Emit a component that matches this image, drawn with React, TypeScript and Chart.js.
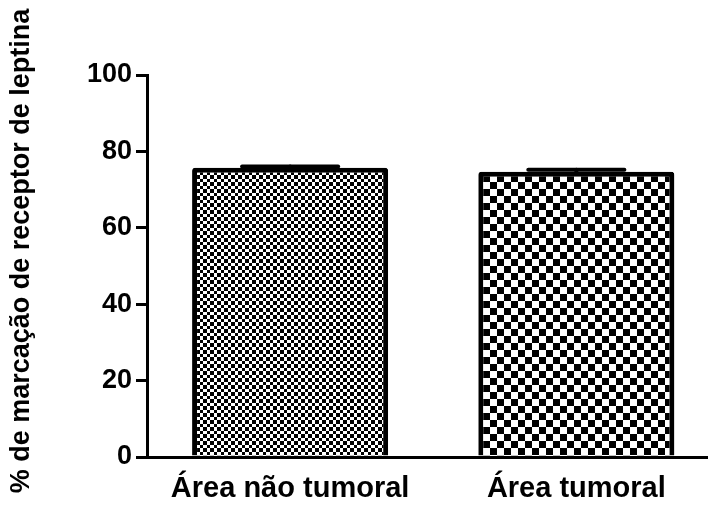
import { useEffect, useRef } from "react";
import { Chart, registerables } from "chart.js";

Chart.register(...registerables);

const categories = ["Área não tumoral", "Área tumoral"];
const means = [75.7, 74.7];
const sems = [0.9, 1.0];
const yTickValues = [0, 20, 40, 60, 80, 100];
const yTitle = "% de marcação de receptor de leptina";

const FONT = "'Liberation Sans', Arial, Helvetica, sans-serif";

function makeChecker(ctx: CanvasRenderingContext2D, cells: number[]) {
  const period = cells.reduce((a, b) => a + b, 0);
  const c = document.createElement("canvas");
  c.width = period;
  c.height = period;
  const g = c.getContext("2d")!;
  g.fillStyle = "#fff";
  g.fillRect(0, 0, period, period);
  g.fillStyle = "#000";
  let y = 0;
  cells.forEach((h, i) => {
    let x = 0;
    cells.forEach((w, j) => {
      if ((i + j) % 2 === 0) g.fillRect(x, y, w, h);
      x += w;
    });
    y += h;
  });
  return ctx.createPattern(c, "repeat")!;
}

const errorBars = {
  id: "errorBars",
  afterDatasetsDraw(chart: any) {
    const ctx = chart.ctx;
    const meta = chart.getDatasetMeta(0);
    const y = chart.scales.y;
    ctx.save();
    ctx.strokeStyle = "#000";
    ctx.lineWidth = 4;
    ctx.lineCap = "round";
    meta.data.forEach((bar: any, i: number) => {
      const top = y.getPixelForValue(means[i] + sems[i]) + 2;
      const half = bar.width * 0.245;
      ctx.beginPath();
      ctx.moveTo(bar.x - half, top);
      ctx.lineTo(bar.x + half, top);
      ctx.stroke();
      ctx.beginPath();
      ctx.moveTo(bar.x, top);
      ctx.lineTo(bar.x, bar.y);
      ctx.stroke();
    });
    ctx.restore();
  },
};

const yTitlePlugin = {
  id: "yTitlePlugin",
  afterDraw(chart: any) {
    const ctx = chart.ctx;
    ctx.save();
    ctx.translate(22, 251);
    ctx.rotate(-Math.PI / 2);
    ctx.font = `bold 27px ${FONT}`;
    ctx.fillStyle = "#000";
    ctx.textAlign = "center";
    ctx.textBaseline = "middle";
    ctx.fillText(yTitle, 0, 0);
    ctx.restore();
  },
};

export default function App() {
  const ref = useRef<HTMLCanvasElement | null>(null);

  useEffect(() => {
    document.body.style.margin = "0";
    const canvas = ref.current!;
    const ctx = canvas.getContext("2d")!;
    const patterns = [makeChecker(ctx, [4, 3, 4, 3]), makeChecker(ctx, [7, 7])];

    const chart = new Chart(canvas, {
      type: "bar",
      data: {
        datasets: [
          {
            data: categories.map((_, i) => ({ x: i, y: means[i] })) as any,
            backgroundColor: patterns as any,
            borderColor: "#000",
            borderWidth: 5,
            borderRadius: 3,
            borderSkipped: "bottom",
            categoryPercentage: 1,
            barPercentage: 0.685,
          },
        ],
      },
      options: {
        animation: false,
        responsive: false,
        devicePixelRatio: 1,
        layout: { padding: { top: 75, right: 0, bottom: 0, left: 0 } },
        plugins: {
          legend: { display: false },
          tooltip: { enabled: false },
        },
        scales: {
          x: {
            type: "linear",
            offset: false,
            bounds: "data",
            min: -0.5,
            max: 1.46,
            afterBuildTicks: (scale: any) => {
              scale.ticks = categories.map((_, i) => ({ value: i }));
            },
            afterFit: (scale: any) => {
              scale.height = 65;
            },
            grid: { display: false },
            border: { display: true, color: "#000", width: 3 },
            ticks: {
              padding: 7,
              color: "#000",
              font: { family: FONT, size: 29, weight: "bold" },
              maxRotation: 0,
              autoSkip: false,
              callback: (v: any) => categories[v as number] ?? "",
            },
          },
          y: {
            type: "linear",
            min: 0,
            max: 100,
            afterBuildTicks: (scale: any) => {
              scale.ticks = yTickValues.map((v) => ({ value: v }));
            },
            afterFit: (scale: any) => {
              scale.width = 147;
            },
            grid: {
              display: true,
              drawOnChartArea: false,
              drawTicks: true,
              tickLength: 11,
              tickWidth: 3,
              lineWidth: 3,
              color: "#000",
              tickColor: "#000",
            },
            border: { display: true, color: "#000", width: 3 },
            ticks: {
              padding: 4,
              color: "#000",
              font: { family: FONT, size: 27, weight: "bold" },
            },
          },
        },
      },
      plugins: [errorBars, yTitlePlugin],
    });
    return () => chart.destroy();
  }, []);

  return (
    <div style={{ width: 708, height: 522 }}>
      <canvas ref={ref} width={708} height={522} style={{ display: "block" }} />
    </div>
  );
}
